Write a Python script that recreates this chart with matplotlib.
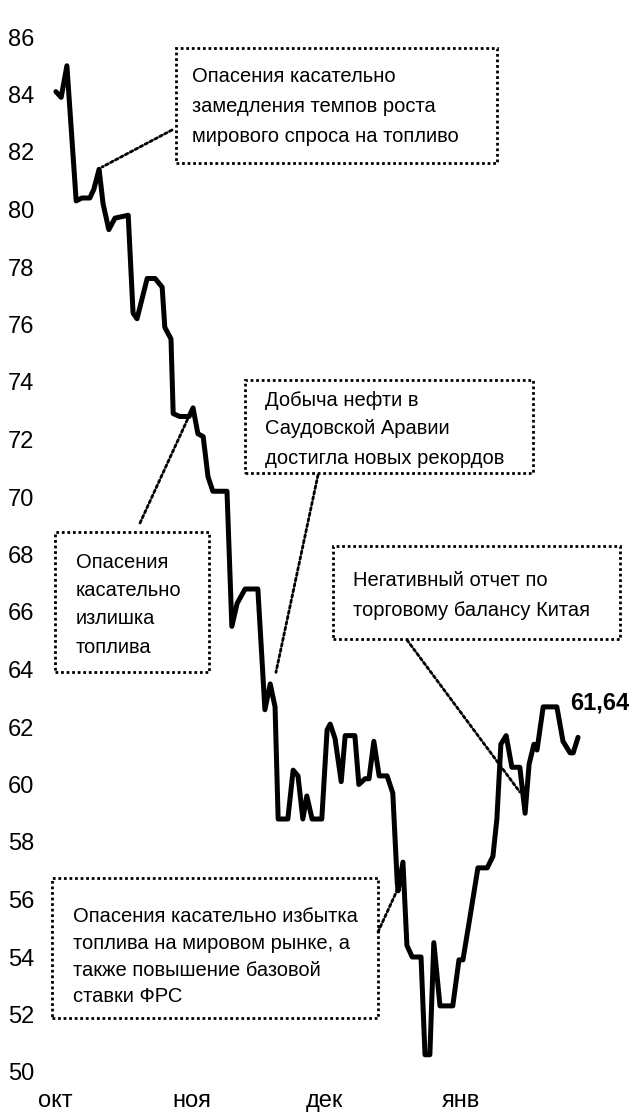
import matplotlib
matplotlib.use("Agg")
import matplotlib.pyplot as plt
from matplotlib.patches import Rectangle

# ---- data (days since 1 Oct, Brent price) ----
days = [0.2, 1.4, 2.7, 4.8, 6.1, 7.9, 8.8, 10.0, 10.9, 12.2, 13.6, 16.6, 17.7, 18.6,
        20.9, 22.7, 24.3, 24.9, 26.3, 26.8, 28.3, 30.4, 31.3, 32.4, 33.6, 34.7, 35.8,
        39.0, 40.1, 41.3, 43.1, 46.0, 47.6, 48.8, 49.9, 50.6, 52.8, 54.0, 55.1, 56.2,
        57.1, 58.3, 60.5, 61.7, 62.4, 63.5, 64.9, 65.8, 68.0, 68.9, 70.3, 71.2, 72.3,
        73.5, 75.3, 76.6, 77.6, 77.8, 78.9, 79.8, 81.0, 83.0, 83.9, 85.0, 85.9, 87.3,
        90.2, 91.6, 92.5, 93.9, 95.9, 98.0, 99.3, 100.2, 101.1, 102.3, 103.6, 105.4,
        106.6, 107.5, 108.6, 109.3, 110.7, 113.8, 115.2, 116.8, 117.5, 118.6]
price = [84.1, 83.9, 85.0, 80.3, 80.4, 80.4, 80.7, 81.4, 80.2, 79.3, 79.7, 79.8, 76.4, 76.2,
         77.6, 77.6, 77.3, 75.9, 75.5, 72.9, 72.8, 72.8, 73.1, 72.2, 72.1, 70.7, 70.2,
         70.2, 65.5, 66.3, 66.8, 66.8, 62.6, 63.5, 62.7, 58.8, 58.8, 60.5, 60.3, 58.8,
         59.6, 58.8, 58.8, 61.9, 62.1, 61.6, 60.1, 61.7, 61.7, 60.0, 60.2, 60.2, 61.5,
         60.3, 60.3, 59.7, 56.6, 56.3, 57.3, 54.4, 54.0, 54.0, 50.6, 50.6, 54.5, 52.3,
         52.3, 53.9, 53.9, 55.2, 57.1, 57.1, 57.5, 58.8, 61.4, 61.7, 60.6, 60.6,
         59.0, 60.7, 61.4, 61.2, 62.7, 62.7, 61.5, 61.1, 61.1, 61.64]
last_label = "61,64"

month_pos = [0, 31, 61, 92]
month_labels = ["окт", "ноя", "дек", "янв"]
y_ticks = list(range(50, 87, 2))

notes = [
    ["Опасения касательно", "замедления темпов роста", "мирового спроса на топливо"],
    ["Опасения", "касательно", "излишка", "топлива"],
    ["Добыча нефти в", "Саудовской Аравии", "достигла новых рекордов"],
    ["Негативный отчет по", "торговому балансу Китая"],
    ["Опасения касательно избытка", "топлива на мировом рынке, а", "также повышение базовой", "ставки ФРС"],
]
note_points = [(10.7, 81.48), (30.2, 72.75), (50.1, 63.9), (105.4, 59.74), (77.6, 56.33)]

# ---- layout (pixels) ----
W, H = 634, 1114
FAM = ["Liberation Sans", "DejaVu Sans"]
plt.rcParams["font.family"] = FAM

fig = plt.figure(figsize=(W / 100, H / 100), dpi=100)

def fx(px):
    return px / W

def fy(py):
    return 1 - py / H

ax_left, ax_right, ax_top, ax_bot = 40, 630, 37, 1072
ax = fig.add_axes([fx(ax_left), fy(ax_bot), fx(ax_right - ax_left), (ax_bot - ax_top) / H])
ax.set_xlim((ax_left - 55) / 4.41, (ax_right - 55) / 4.41)
ax.set_ylim(50, 86)
ax.plot(days, price, color="black", lw=3.6, solid_joinstyle="round", solid_capstyle="round", zorder=3)
for s in ax.spines.values():
    s.set_visible(False)
ax.set_yticks(y_ticks)
ax.set_yticklabels([str(v) for v in y_ticks])
ax.set_xticks(month_pos)
ax.set_xticklabels(month_labels)
ax.tick_params(axis="y", length=0, pad=4, labelsize=17)
ax.tick_params(axis="x", length=0, pad=13, labelsize=17)
ax.patch.set_alpha(0)

ax.annotate(last_label, xy=(days[-1], price[-1]), xytext=(-8, 34), textcoords="offset pixels",
            ha="left", va="center", fontsize=17, fontweight="bold")

# boxes: left, top, right, bottom, text-left, first-line-y, line spacing, connector start
boxes = [
    (176, 48, 497, 163, 192, 76, 30, (172, 130)),
    (55, 532, 209, 672, 76, 562, 28.5, (140, 523)),
    (245, 380, 533, 473, 265, 400, 29, (318, 475)),
    (333, 546, 620, 639, 353, 580, 31, (407, 640)),
    (52, 878, 378, 1018, 73, 917, 26.5, (378, 932)),
]
dot = (0, (1, 1))
for (l, t, r, b, tx, ty, sp, cs), lines, pt in zip(boxes, notes, note_points):
    rect = Rectangle((fx(l), fy(b)), fx(r - l), (b - t) / H, transform=fig.transFigure,
                     fill=False, edgecolor="black", lw=2, linestyle=dot)
    fig.patches.append(rect)
    for i, line in enumerate(lines):
        fig.text(fx(tx), fy(ty + i * sp), line, ha="left", va="center", fontsize=14.5)
    ax.annotate("", xy=pt, xycoords="data", xytext=(fx(cs[0]), fy(cs[1])), textcoords="figure fraction",
                arrowprops=dict(arrowstyle="-", lw=2, linestyle=dot, color="black",
                                shrinkA=0, shrinkB=0))

fig.savefig("out.png", dpi=100)
